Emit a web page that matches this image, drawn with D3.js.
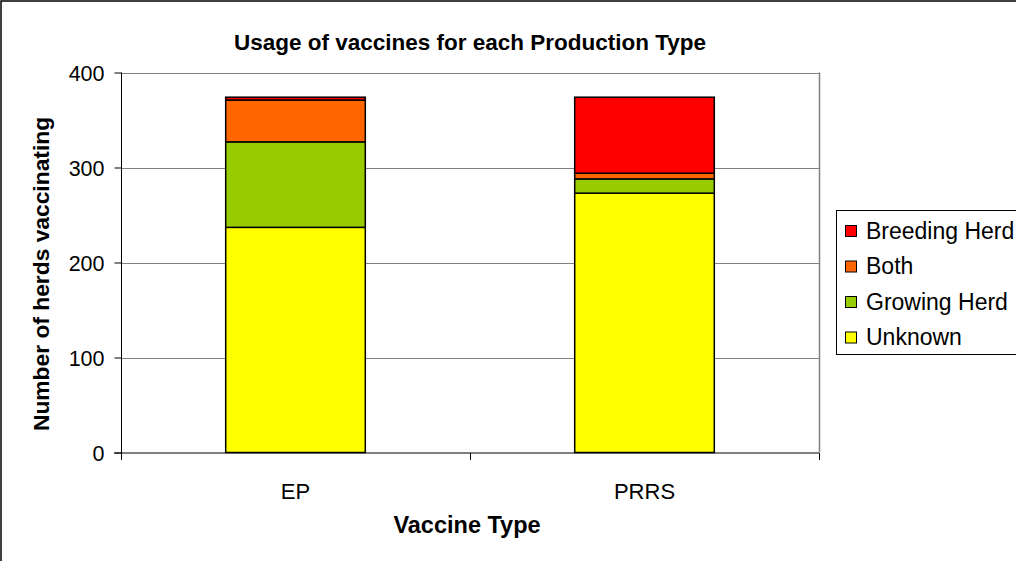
<!DOCTYPE html>
<html><head><meta charset="utf-8">
<script src="https://cdn.jsdelivr.net/npm/d3@7"></script>
<style>body{margin:0;background:#fff}svg{display:block;font-family:Arial,"Liberation Sans",sans-serif}</style>
</head><body>
<svg id="c" width="1016" height="561"></svg>
<script>
const categories = ["EP", "PRRS"];
const seriesNames = ["Unknown", "Growing Herd", "Both", "Breeding Herd"];
const unknown = [237, 273];
const growingHerd = [90, 15];
const both = [44, 6];
const breedingHerd = [3, 80];
const yTicks = [0, 100, 200, 300, 400];
const colors = ["#FFFF00", "#99CC00", "#FF6600", "#FF0000"];

const seriesValues = [unknown, growingHerd, both, breedingHerd];
const rows = categories.map((c, i) => {
  const r = {cat: c};
  seriesNames.forEach((s, j) => r[s] = seriesValues[j][i]);
  return r;
});
const stack = d3.stack().keys(seriesNames)(rows);

const svg = d3.select("#c");
const L = 121, R = 819, T = 72.5, B = 452.5;

svg.append("rect").attr("x", 1).attr("y", 1).attr("width", 1030).attr("height", 570)
  .attr("fill", "#fff").attr("stroke", "#000").attr("stroke-width", 1.5);

const x = d3.scaleBand().domain(categories).range([L, R]).paddingInner(0.6).paddingOuter(0.3);
const y = d3.scaleLinear().domain([0, 400]).range([B, T]);

// gridlines
svg.append("g").selectAll("line").data(yTicks.filter(d => d > 0)).join("line")
  .attr("x1", L).attr("x2", R).attr("y1", d => Math.round(y(d)) + 0.5).attr("y2", d => Math.round(y(d)) + 0.5)
  .attr("stroke", "#808080").attr("stroke-width", 1.2);
// right border of plot
svg.append("line").attr("x1", R + 0.5).attr("x2", R + 0.5).attr("y1", T).attr("y2", B)
  .attr("stroke", "#808080").attr("stroke-width", 1.5);

// bars
svg.append("g").selectAll("g").data(stack).join("g")
  .attr("fill", (d, i) => colors[i])
  .selectAll("rect").data(d => d).join("rect")
  .attr("x", d => x(d.data.cat))
  .attr("width", x.bandwidth())
  .attr("y", d => y(d[1]))
  .attr("height", d => y(d[0]) - y(d[1]))
  .attr("stroke", "#000").attr("stroke-width", 1.5);

// y axis
const yAxis = d3.axisLeft(y).tickValues(yTicks).tickSize(7).tickPadding(10);
const gy = svg.append("g").attr("transform", `translate(${L + 0.5},0)`).call(yAxis);
gy.select(".domain").attr("stroke", "#000").attr("d", `M0,${T}V${B + 6}`);
gy.selectAll(".tick line").attr("stroke", "#000");
gy.selectAll("text").attr("font-size", 21.5).attr("fill", "#000").attr("dy", "0.35em")
  .attr("font-family", "Arial, 'Liberation Sans', sans-serif");

// x axis
const xb = d3.scaleLinear().domain([0, 2]).range([L, R]);
const gx = svg.append("g").attr("transform", `translate(0,${B + 0.5})`);
gx.append("line").attr("x1", L - 7).attr("x2", R).attr("stroke", "#000").attr("stroke-width", 1.2);
gx.selectAll(".tk").data([0, 1, 2]).join("line").attr("class", "tk")
  .attr("x1", d => Math.round(xb(d)) + 0.5).attr("x2", d => Math.round(xb(d)) + 0.5).attr("y1", 0).attr("y2", 7)
  .attr("stroke", "#000");
gx.selectAll("text").data(categories).join("text")
  .attr("x", d => x(d) + x.bandwidth() / 2).attr("y", 46)
  .attr("text-anchor", "middle").attr("font-size", 22).text(d => d);

// titles
svg.append("text").attr("x", 470).attr("y", 50).attr("text-anchor", "middle")
  .attr("font-size", 22.5).attr("font-weight", "bold").text("Usage of vaccines for each Production Type");
svg.append("text").attr("x", 467).attr("y", 533).attr("text-anchor", "middle")
  .attr("font-size", 23.5).attr("font-weight", "bold").text("Vaccine Type");
svg.append("text").attr("transform", "translate(49,274) rotate(-90)").attr("text-anchor", "middle")
  .attr("font-size", 22.8).attr("font-weight", "bold").text("Number of herds vaccinating");

// legend
const lg = svg.append("g");
lg.append("rect").attr("x", 836.5).attr("y", 210.5).attr("width", 200).attr("height", 144)
  .attr("fill", "#fff").attr("stroke", "#000").attr("stroke-width", 1);
const legendOrder = [3, 2, 1, 0];
legendOrder.forEach((si, k) => {
  const yy = 231 + k * 35.5;
  lg.append("rect").attr("x", 845.5).attr("y", yy - 5.5).attr("width", 11).attr("height", 11)
    .attr("fill", colors[si]).attr("stroke", "#000").attr("stroke-width", 1);
  lg.append("text").attr("x", 866).attr("y", yy + 7.5).attr("font-size", 23).text(seriesNames[si]);
});
</script>
</body></html>
